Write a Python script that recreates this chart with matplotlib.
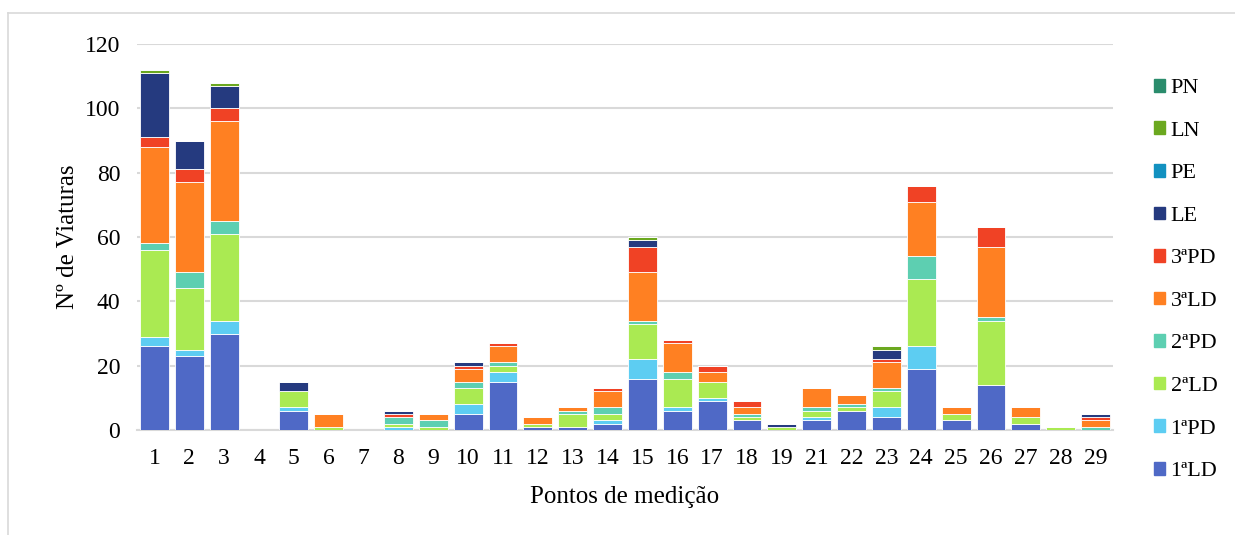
import numpy as np
import matplotlib
matplotlib.use('Agg')
import matplotlib.pyplot as plt
from matplotlib.lines import Line2D

plt.rcParams['font.family'] = ['Liberation Serif', 'DejaVu Serif']

pontos = ['1', '2', '3', '4', '5', '6', '7', '8', '9', '10', '11', '12', '13', '14',
          '15', '16', '17', '18', '19', '21', '22', '23', '24', '25', '26', '27', '28', '29']

ld1 = [26, 23, 30, 0, 6, 0, 0, 0, 0, 5, 15, 1, 1, 2, 16, 6, 9, 3, 0, 3, 6, 4, 19, 3, 14, 2, 0, 0]
pd1 = [3, 2, 4, 0, 1, 0, 0, 1, 0, 3, 3, 0, 0, 1, 6, 1, 1, 0, 0, 1, 0, 3, 7, 0, 0, 0, 0, 0]
ld2 = [27, 19, 27, 0, 5, 1, 0, 1, 1, 5, 2, 1, 4, 2, 11, 9, 5, 1, 1, 2, 1, 5, 21, 2, 20, 2, 1, 0]
pd2 = [2, 5, 4, 0, 0, 0, 0, 2, 2, 2, 1, 0, 1, 2, 1, 2, 0, 1, 0, 1, 1, 1, 7, 0, 1, 0, 0, 1]
ld3 = [30, 28, 31, 0, 0, 4, 0, 0, 2, 4, 5, 2, 1, 5, 15, 9, 3, 2, 0, 6, 3, 8, 17, 2, 22, 3, 0, 2]
pd3 = [3, 4, 4, 0, 0, 0, 0, 1, 0, 1, 1, 0, 0, 1, 8, 1, 2, 2, 0, 0, 0, 1, 5, 0, 6, 0, 0, 1]
le = [20, 9, 7, 0, 3, 0, 0, 1, 0, 1, 0, 0, 0, 0, 2, 0, 0, 0, 1, 0, 0, 3, 0, 0, 0, 0, 0, 1]
pe = [0] * 28
ln = [1, 0, 1, 0, 0, 0, 0, 0, 0, 0, 0, 0, 0, 0, 1, 0, 0, 0, 0, 0, 0, 1, 0, 0, 0, 0, 0, 0]
pn = [0] * 28

series = [ld1, pd1, ld2, pd2, ld3, pd3, le, pe, ln, pn]
labels = ['1ªLD', '1ªPD', '2ªLD', '2ªPD', '3ªLD', '3ªPD', 'LE', 'PE', 'LN', 'PN']
colors = ['#4F69C6', '#5DCDF2', '#AAEA52', '#5DCFB1', '#FF8022', '#F04225',
          '#253A7F', '#1291C0', '#6BA81F', '#2A8C6C']

fig = plt.figure(figsize=(12.35, 5.35), dpi=100)
ax = fig.add_axes([137 / 1235, 1 - 430 / 535, (1113 - 137) / 1235, (430 - 44) / 535])

x = np.arange(len(pontos))
bottom = np.zeros(len(pontos))
for vals, lab, col in zip(series, labels, colors):
    ax.bar(x, vals, 0.83, bottom=bottom, color=col, label=lab,
           edgecolor='white', linewidth=0.6, zorder=3)
    bottom += np.array(vals)

ax.set_xlim(-0.5, len(pontos) - 0.5)
ax.set_ylim(0, 120)
ax.set_yticks(range(0, 121, 20))
ax.set_xticks(x)
ax.set_xticklabels(pontos)
ax.yaxis.grid(True, color='#D9D9D9', linewidth=1.5, zorder=0)
for s in ['top', 'right', 'left']:
    ax.spines[s].set_visible(False)
ax.spines['bottom'].set_color('#D9D9D9')
ax.spines['bottom'].set_linewidth(1.5)
ax.tick_params(axis='both', length=0, labelsize=17, colors='black')
ax.tick_params(axis='y', pad=12)
ax.tick_params(axis='x', pad=13)

ax.set_ylabel('Nº de Viaturas', fontsize=18, labelpad=4)
ax.set_xlabel('Pontos de medição', fontsize=18, labelpad=12)

handles = [plt.Rectangle((0, 0), 1, 1, color=c) for c in colors][::-1]
fig.legend(handles, labels[::-1], loc='upper left', bbox_to_anchor=(1145 / 1235, 1 - 70 / 535),
           frameon=False, fontsize=16, handlelength=0.5, handleheight=0.5,
           handletextpad=0.25, labelspacing=1.05, borderaxespad=0)

# light frame around the chart area
fig.add_artist(Line2D([8 / 1235, 1.0], [1 - 13 / 535, 1 - 13 / 535], color='#D9D9D9', linewidth=1.2))
fig.add_artist(Line2D([8 / 1235, 8 / 1235], [0, 1 - 13 / 535], color='#D9D9D9', linewidth=1.2))

plt.savefig('out.png', dpi=100)
